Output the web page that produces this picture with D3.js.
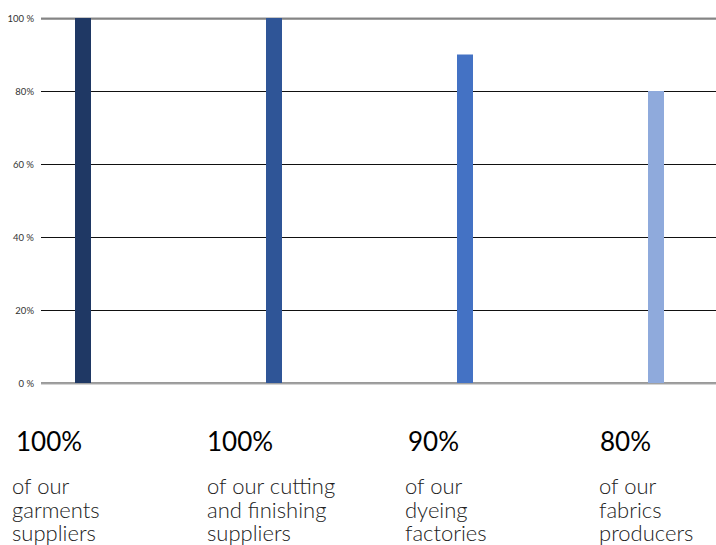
<!DOCTYPE html>
<html>
<head>
<meta charset="utf-8">
<script src="https://cdn.jsdelivr.net/npm/d3@7"></script>
<style>
html,body{margin:0;padding:0;background:#fff;}
svg{display:block;}
</style>
</head>
<body>
<svg id="chart" width="716" height="545"></svg>
<script>
const categories = ["garments", "cutting", "dyeing", "fabrics"];
const values = [100, 100, 90, 80];
const colors = ["#1f3864", "#2f5597", "#4472c4", "#8faadc"];
const tickValues = [0, 20, 40, 60, 80, 100];
const tickLabels = ["0 %", "20%", "40 %", "60 %", "80%", "100 %"];
const bigLabels = ["100%", "100%", "90%", "80%"];
const captions = [
  ["of our", "garments", "suppliers"],
  ["of our cutting", "and finishing", "suppliers"],
  ["of our", "dyeing", "factories"],
  ["of our", "fabrics", "producers"]
];
const bigX = [16, 207, 408, 600];
const capX = [12, 207, 405, 599];

const svg = d3.select("#chart");
const y = d3.scaleLinear().domain([0, 100]).range([383, 18]);
const x = d3.scalePoint().domain(categories).range([83, 656]);
const barW = 16;
const gridX0 = 41, gridX1 = 716;

// gridlines
const grid = svg.append("g");
tickValues.forEach((t, i) => {
  const yy = Math.round(y(t));
  if (t === 100) {
    grid.append("line").attr("x1", gridX0).attr("x2", gridX1).attr("y1", yy).attr("y2", yy)
      .attr("stroke", "#8a8a8a").attr("stroke-width", 1);
    grid.append("line").attr("x1", gridX0).attr("x2", gridX1).attr("y1", yy + 1).attr("y2", yy + 1)
      .attr("stroke", "#444").attr("stroke-width", 1);
  } else if (t === 0) {
    grid.append("line").attr("x1", gridX0).attr("x2", gridX1).attr("y1", yy).attr("y2", yy)
      .attr("stroke", "#333").attr("stroke-width", 1);
    grid.append("line").attr("x1", gridX0).attr("x2", gridX1).attr("y1", yy + 1).attr("y2", yy + 1)
      .attr("stroke", "#aaa").attr("stroke-width", 1);
  } else {
    grid.append("line").attr("x1", gridX0).attr("x2", gridX1).attr("y1", yy + 0.5).attr("y2", yy + 0.5)
      .attr("stroke", "#111").attr("stroke-width", 1);
  }
  svg.append("text").attr("x", 34).attr("y", yy + 0.5).attr("dy", "0.35em")
    .attr("text-anchor", "end").attr("font-family", "Lato, sans-serif").attr("font-size", 9.5)
    .attr("fill", "#333").text(tickLabels[i]);
});

// bars
svg.append("g").selectAll("rect").data(values).join("rect")
  .attr("x", (d, i) => x(categories[i]) - barW / 2)
  .attr("width", barW)
  .attr("y", d => y(d))
  .attr("height", d => y(0) - y(d))
  .attr("fill", (d, i) => colors[i]);

// big labels
svg.append("g").selectAll("text").data(bigLabels).join("text")
  .attr("x", (d, i) => bigX[i]).attr("y", 451)
  .attr("font-family", "Lato, sans-serif").attr("font-size", 26).attr("font-weight", 400)
  .attr("fill", "#000").text(d => d);

// captions
captions.forEach((lines, i) => {
  const t = svg.append("text").attr("x", capX[i]).attr("y", 494)
    .attr("font-family", "Lato, sans-serif").attr("font-size", 22).attr("font-weight", 300)
    .attr("fill", "#222");
  lines.forEach((l, j) => {
    t.append("tspan").attr("x", capX[i]).attr("y", 494 + j * 23.5).text(l);
  });
});
</script>
</body>
</html>
